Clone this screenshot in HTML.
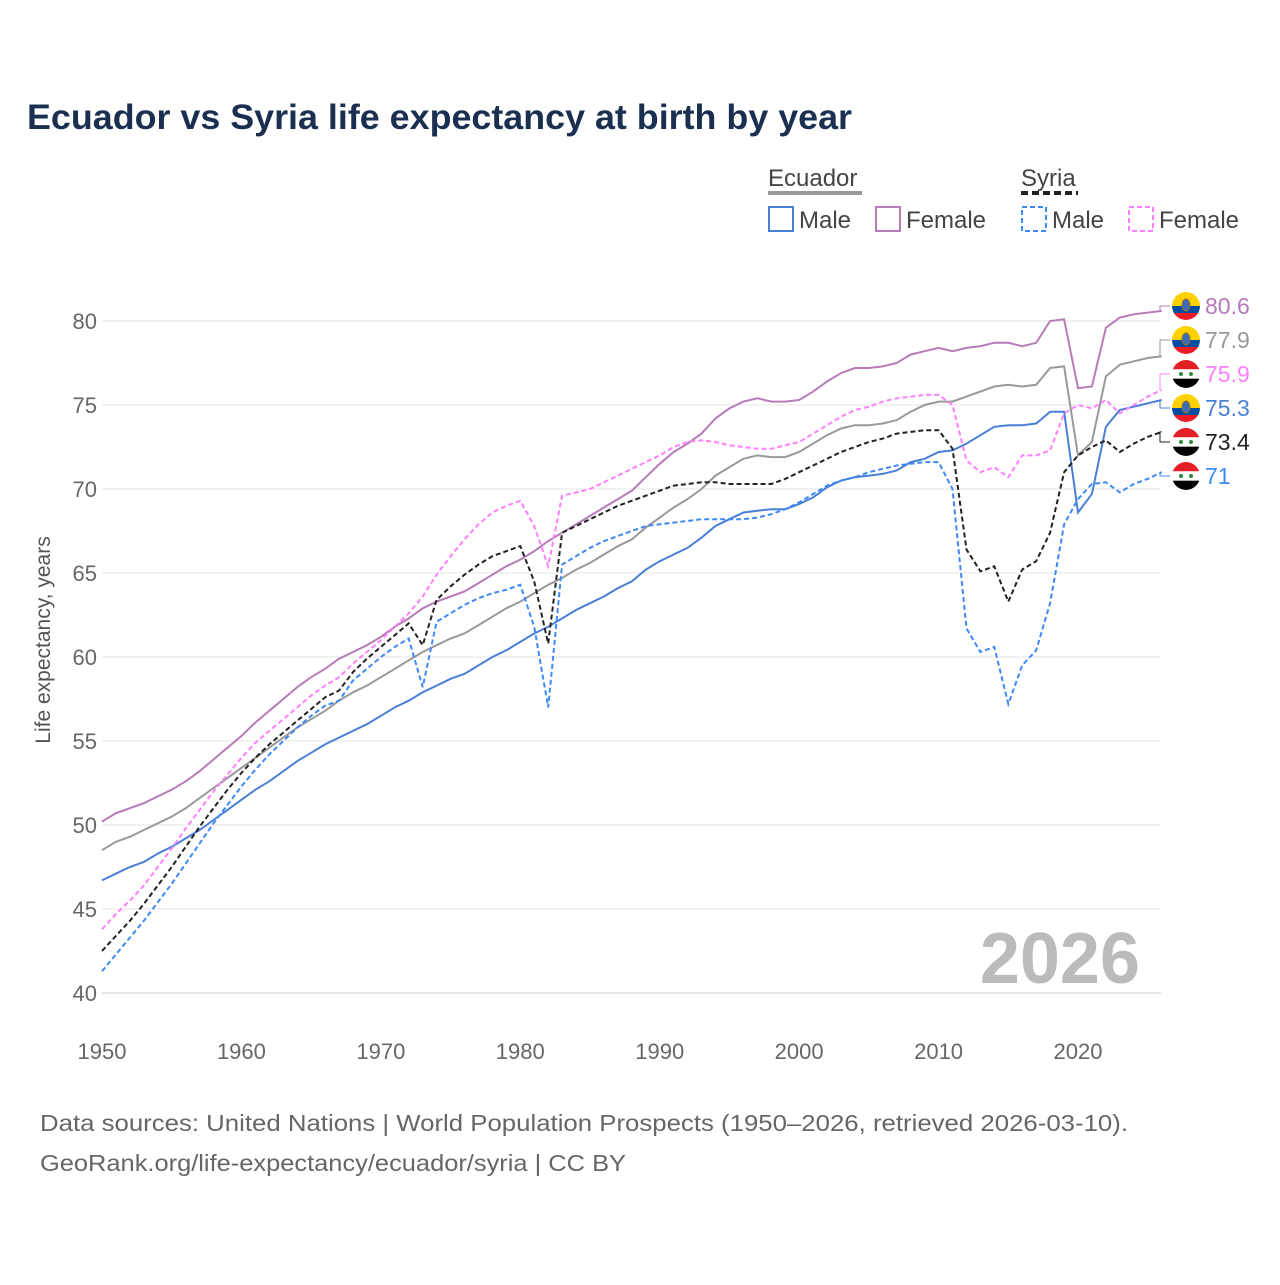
<!DOCTYPE html>
<html><head><meta charset="utf-8">
<style>
body{margin:0;background:#fff;font-family:"Liberation Sans",sans-serif;}
svg text{font-family:"Liberation Sans",sans-serif;}
</style></head>
<body>
<svg id="chart" width="1280" height="1280" viewBox="0 0 1280 1280">
<rect width="1280" height="1280" fill="#fff"/>
<text x="27" y="129" font-size="35" font-weight="bold" fill="#1b3050" textLength="825" lengthAdjust="spacingAndGlyphs">Ecuador vs Syria life expectancy at birth by year</text>
<g>
 <text x="768" y="186" font-size="24" fill="#444">Ecuador</text>
 <line x1="768" y1="193" x2="862" y2="193" stroke="#999" stroke-width="4"/>
 <text x="1021" y="186" font-size="24" fill="#444">Syria</text>
 <line x1="1021" y1="193" x2="1078" y2="193" stroke="#222" stroke-width="4" stroke-dasharray="7,4"/>
 <g><rect x="769" y="207" width="24" height="24" fill="none" stroke="#4a7fd6" stroke-width="2"/><text x="799" y="228" font-size="24" fill="#444">Male</text></g>
 <g><rect x="876" y="207" width="24" height="24" fill="none" stroke="#b77bb9" stroke-width="2"/><text x="906" y="228" font-size="24" fill="#444">Female</text></g>
 <g><rect x="1022" y="207" width="24" height="24" fill="none" stroke="#3d8af7" stroke-width="2" stroke-dasharray="5,3"/><text x="1052" y="228" font-size="24" fill="#444">Male</text></g>
 <g><rect x="1129" y="207" width="24" height="24" fill="none" stroke="#ff80ff" stroke-width="2" stroke-dasharray="5,3"/><text x="1159" y="228" font-size="24" fill="#444">Female</text></g>
</g>
<g id="grid"></g>
<g id="axes"></g>
<text x="1140" y="983" font-size="72" font-weight="bold" fill="#bbb" text-anchor="end">2026</text>
<text transform="translate(50,640) rotate(-90)" font-size="21" fill="#555" text-anchor="middle">Life expectancy, years</text>
<g id="series"></g>
<g id="labels"></g>
<text x="40" y="1131" font-size="23" fill="#666" textLength="1088" lengthAdjust="spacingAndGlyphs">Data sources: United Nations | World Population Prospects (1950–2026, retrieved 2026-03-10).</text>
<text x="40" y="1171" font-size="23" fill="#666" textLength="586" lengthAdjust="spacingAndGlyphs">GeoRank.org/life-expectancy/ecuador/syria | CC BY</text>
</svg>
<script>
const startYear = 1950;
const xTicks = [1950,1960,1970,1980,1990,2000,2010,2020];
const yTicks = [40,45,50,55,60,65,70,75,80];
const ecTotal = [48.5,49.0,49.3,49.7,50.1,50.5,51.0,51.6,52.2,52.8,53.4,54.0,54.6,55.2,55.8,56.3,56.8,57.4,57.9,58.3,58.8,59.3,59.8,60.3,60.7,61.1,61.4,61.9,62.4,62.9,63.3,63.8,64.3,64.7,65.2,65.6,66.1,66.6,67.0,67.7,68.3,68.9,69.4,70.0,70.8,71.3,71.8,72.0,71.9,71.9,72.2,72.7,73.2,73.6,73.8,73.8,73.9,74.1,74.6,75.0,75.2,75.2,75.5,75.8,76.1,76.2,76.1,76.2,77.2,77.3,72.0,72.8,76.7,77.4,77.6,77.8,77.9];
const ecFemale = [50.2,50.7,51.0,51.3,51.7,52.1,52.6,53.2,53.9,54.6,55.3,56.1,56.8,57.5,58.2,58.8,59.3,59.9,60.3,60.7,61.2,61.8,62.3,62.9,63.3,63.6,63.9,64.4,64.9,65.4,65.8,66.3,66.9,67.4,67.9,68.4,68.9,69.4,69.9,70.7,71.5,72.2,72.7,73.3,74.2,74.8,75.2,75.4,75.2,75.2,75.3,75.8,76.4,76.9,77.2,77.2,77.3,77.5,78.0,78.2,78.4,78.2,78.4,78.5,78.7,78.7,78.5,78.7,80.0,80.1,76.0,76.1,79.6,80.2,80.4,80.5,80.6];
const ecMale = [46.7,47.1,47.5,47.8,48.3,48.7,49.2,49.7,50.3,50.9,51.5,52.1,52.6,53.2,53.8,54.3,54.8,55.2,55.6,56.0,56.5,57.0,57.4,57.9,58.3,58.7,59.0,59.5,60.0,60.4,60.9,61.4,61.8,62.3,62.8,63.2,63.6,64.1,64.5,65.2,65.7,66.1,66.5,67.1,67.8,68.2,68.6,68.7,68.8,68.8,69.1,69.5,70.1,70.5,70.7,70.8,70.9,71.1,71.6,71.8,72.2,72.3,72.7,73.2,73.7,73.8,73.8,73.9,74.6,74.6,68.6,69.7,73.7,74.7,74.9,75.1,75.3];
const syTotal = [42.5,43.4,44.3,45.3,46.4,47.5,48.7,49.9,51.0,52.1,53.1,54.0,54.8,55.5,56.2,56.9,57.6,58.0,59.1,59.9,60.6,61.3,62.0,60.7,63.4,64.2,64.9,65.5,66.0,66.3,66.6,64.5,60.8,67.4,67.8,68.2,68.6,69.0,69.3,69.6,69.9,70.2,70.3,70.4,70.4,70.3,70.3,70.3,70.3,70.6,71.0,71.4,71.8,72.2,72.5,72.8,73.0,73.3,73.4,73.5,73.5,72.4,66.4,65.1,65.4,63.3,65.2,65.7,67.4,71.0,72.0,72.5,72.9,72.2,72.7,73.1,73.4];
const syMale = [41.3,42.3,43.3,44.3,45.4,46.5,47.7,48.9,50.1,51.2,52.3,53.3,54.2,55.0,55.8,56.5,57.1,57.4,58.6,59.3,60.0,60.6,61.1,58.2,62.1,62.6,63.1,63.5,63.8,64.0,64.3,61.8,57.0,65.5,66.0,66.5,66.9,67.2,67.5,67.8,67.9,68.0,68.1,68.2,68.2,68.2,68.2,68.3,68.5,68.8,69.2,69.7,70.2,70.5,70.7,71.0,71.2,71.4,71.5,71.6,71.6,70.0,61.7,60.3,60.6,57.2,59.5,60.4,63.2,67.9,69.4,70.3,70.4,69.8,70.3,70.6,71.0];
const syFemale = [43.8,44.7,45.5,46.4,47.5,48.6,49.8,50.9,52.0,53.0,54.0,54.9,55.6,56.3,57.0,57.7,58.3,58.8,59.6,60.3,61.0,61.8,62.6,63.6,64.9,66.0,67.0,67.9,68.6,69.0,69.3,67.8,65.4,69.6,69.8,70.0,70.4,70.8,71.2,71.6,72.0,72.5,72.8,72.9,72.8,72.6,72.5,72.4,72.4,72.6,72.8,73.3,73.8,74.3,74.7,74.9,75.2,75.4,75.5,75.6,75.6,75.0,71.7,71.0,71.3,70.7,72.0,72.0,72.3,74.5,75.0,74.8,75.3,74.5,75.0,75.5,75.9];

const NS="http://www.w3.org/2000/svg";
function xs(yr){return 102+(yr-1950)*(1078-102)/70;}
function ys(v){return 993-(v-40)*(993-321)/40;}
function mk(tag,attrs,parent){const e=document.createElementNS(NS,tag);for(const k in attrs)e.setAttribute(k,attrs[k]);parent.appendChild(e);return e;}
const grid=document.getElementById('grid'),axes=document.getElementById('axes');
yTicks.forEach(v=>{
  const l=mk('line',{x1:102,x2:1161,y1:ys(v),y2:ys(v),stroke:v===40?'#ccc':'#e6e6e6','stroke-width':1},grid);
  
  
  const t=mk('text',{x:97,y:ys(v)+8,'font-size':22,fill:'#666','text-anchor':'end'},axes);
  t.textContent=v;
  
  
});
xTicks.forEach(yr=>{
  const t=mk('text',{x:xs(yr),y:1059,'font-size':22,fill:'#666','text-anchor':'middle'},axes);
  t.textContent=yr;
  
  
});
const seriesDefs=[
 {d:ecTotal,c:'#999',dash:'',name:'ecuador-total-line',lab:1,flag:'ec'},
 {d:ecFemale,c:'#b77bb9',dash:'',name:'ecuador-female-line',lab:0,flag:'ec'},
 {d:ecMale,c:'#4a7fd6',dash:'',name:'ecuador-male-line',lab:3,flag:'ec'},
 {d:syFemale,c:'#ff80ff',dash:'5,3',name:'syria-female-line',lab:2,flag:'sy'},
 {d:syTotal,c:'#222',dash:'5,3',name:'syria-total-line',lab:4,flag:'sy'},
 {d:syMale,c:'#3d8af7',dash:'5,3',name:'syria-male-line',lab:5,flag:'sy'}
];
const sg=document.getElementById('series'),lg=document.getElementById('labels');
seriesDefs.forEach(s=>{
  const pts=s.d.map((v,i)=>xs(startYear+i).toFixed(1)+','+ys(v).toFixed(1)).join(' ');
  const p=mk('polyline',{points:pts,fill:'none',stroke:s.c,'stroke-width':2,'stroke-dasharray':s.dash},sg);
  
  
  const last=s.d[s.d.length-1];
  const ly=306+s.lab*34;
  const ex=xs(startYear+s.d.length-1), ey=ys(last);
  const c=mk('polyline',{points:`${ex},${ey} 1160,${ey} 1160,${ly} 1170,${ly}`,fill:'none',stroke:s.c,'stroke-width':1},lg);
  
  
  const g=mk('g',{},lg);
  
  
  const cx=1186,r=14;
  const cp='cp'+s.lab;
  const clip=mk('clipPath',{id:cp},g);mk('circle',{cx:cx,cy:ly,r:r},clip);
  const gg=mk('g',{'clip-path':`url(#${cp})`},g);
  if(s.flag==='ec'){
    mk('rect',{x:cx-r,y:ly-r,width:2*r,height:r,fill:'#ffd100'},gg);
    mk('rect',{x:cx-r,y:ly,width:2*r,height:r/2,fill:'#034ea2'},gg);
    mk('rect',{x:cx-r,y:ly+r/2,width:2*r,height:r/2,fill:'#ed1c24'},gg);
    mk('ellipse',{cx:cx,cy:ly-1,rx:4,ry:6,fill:'#3a6db5',stroke:'#a07020','stroke-width':1},gg);
  } else {
    mk('rect',{x:cx-r,y:ly-r,width:2*r,height:2*r/3,fill:'#e31e24'},gg);
    mk('rect',{x:cx-r,y:ly-r/3,width:2*r,height:2*r/3,fill:'#fff'},gg);
    mk('rect',{x:cx-r,y:ly+r/3,width:2*r,height:2*r/3,fill:'#000'},gg);
    mk('circle',{cx:cx-5,cy:ly,r:2,fill:'#2a8a3a'},gg);
    mk('circle',{cx:cx+5,cy:ly,r:2,fill:'#2a8a3a'},gg);
  }
  const t=mk('text',{x:1205,y:ly+8,'font-size':23,fill:s.c},lg);
  t.textContent=String(last);
  
  
});
</script>
</body></html>
